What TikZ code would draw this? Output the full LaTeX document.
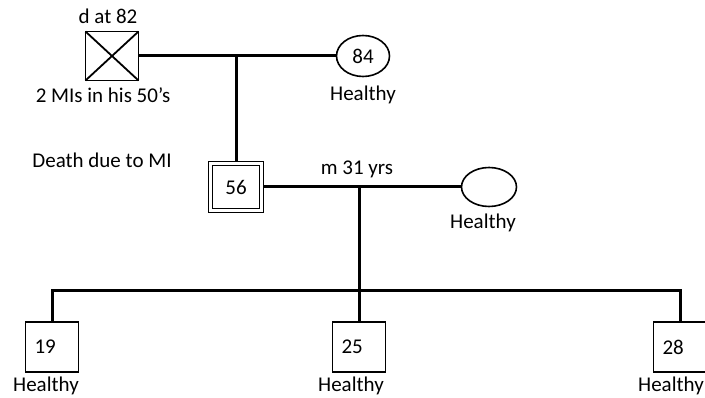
\documentclass[tikz,border=0pt]{standalone}
\usepackage{fontspec}
\setmainfont{Carlito}
\usetikzlibrary{positioning,shapes.geometric}

\begin{document}
\begin{tikzpicture}[
    x=1pt,y=-1pt,
    font=\fontsize{21}{25}\selectfont,
    male/.style={draw,line width=1.9pt,outer sep=0pt,
                 minimum width=53pt,minimum height=49pt},
    female/.style={draw,ellipse,line width=1.6pt,outer sep=0pt,inner sep=0pt,
                   minimum width=53pt,minimum height=41pt},
    proband/.style={male,double,line width=1.5pt,double distance=2.4pt,
                    outer sep=2.7pt,minimum width=51pt,minimum height=47pt},
    kid/.style={male,minimum height=50pt,inner xsep=9pt,text width=35pt,align=left},
    txt/.style={inner sep=0pt,text height=14pt,text depth=4pt},
    link/.style={line width=3pt}
  ]
    \useasboundingbox (0,0) rectangle (705,398);
    \node[male] (gf) at (112,56) {};
    \draw[line width=1.8pt] (gf.north west) -- (gf.south east)
                            (gf.north east) -- (gf.south west);
    \node[female] (gm) at (363,56) {84};
    \node[proband] (p) at (236,187) {56};
    \node[female,minimum width=55pt,minimum height=39pt] (w) at (489,187) {};
    \node[kid] (c1) at (52,347) {19};
    \node[kid] (c2) at (359,347) {25};
    \node[kid] (c3) at (680,347) {28};
    \coordinate (gj) at (236,56);
    \coordinate (mj) at (359,187);
    \coordinate (sj) at (359,291);
    \node[txt,above=4pt of gf,xshift=-4pt] (gfage) {d at 82};
    \node[txt,below=8pt of gf,xshift=-9pt] (gfnote) {2 MIs in his 50’s};
    \node[txt,below=10pt of gm] (gmnote) {Healthy};
    \node[txt,anchor=base] (pnote) at (102,168) {Death due to MI};
    \node[txt,above=8pt of mj,xshift=-2pt] (mnote) {m 31 yrs};
    \node[txt,below=8pt of w,xshift=-6pt] (wnote) {Healthy};
    \node[txt,below=5pt of c1,xshift=-6pt] (c1note) {Healthy};
    \node[txt,below=5pt of c2,xshift=-8pt] (c2note) {Healthy};
    \node[txt,below=5pt of c3,xshift=-9pt] (c3note) {Healthy};
    \draw[link] (gf) -- (gm);
    \draw[link] (gj) -- (p);
    \draw[link] (p) -- (w);
    \draw[link] (mj) -- (c2);
    \draw[link] (c1) |- (sj) -| (c3);
  \end{tikzpicture}
\end{document}
